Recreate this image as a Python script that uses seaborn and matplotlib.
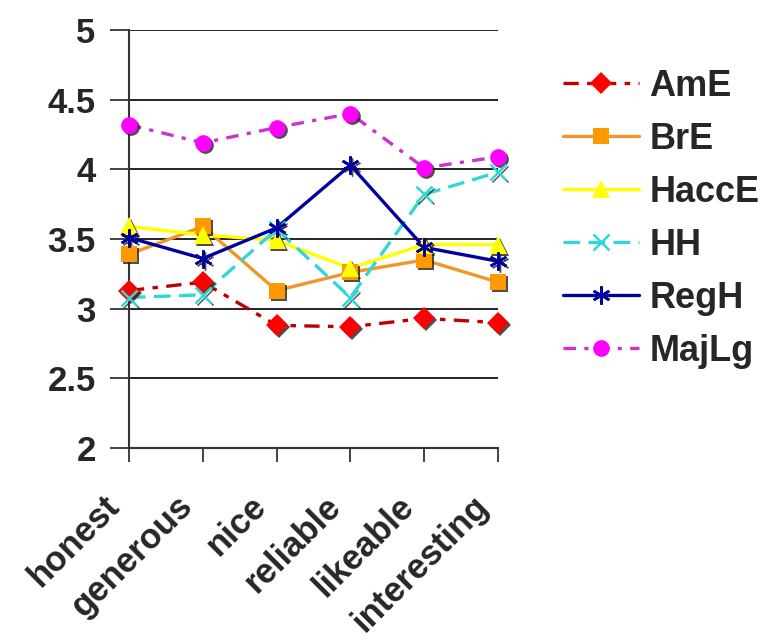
import matplotlib
matplotlib.use("Agg")
import matplotlib.pyplot as plt
import matplotlib.transforms as mtransforms
import seaborn as sns
import pandas as pd

traits = ["honest", "generous", "nice", "reliable", "likeable", "interesting"]
AmE = [3.13, 3.19, 2.88, 2.87, 2.93, 2.90]
BrE = [3.39, 3.59, 3.13, 3.26, 3.35, 3.19]
HaccE = [3.59, 3.53, 3.49, 3.29, 3.46, 3.46]
HH = [3.08, 3.10, 3.57, 3.08, 3.82, 3.98]
RegH = [3.51, 3.36, 3.58, 4.03, 3.44, 3.34]
MajLg = [4.32, 4.19, 4.30, 4.40, 4.01, 4.09]

series = {"AmE": AmE, "BrE": BrE, "HaccE": HaccE, "HH": HH, "RegH": RegH, "MajLg": MajLg}

styles = {
    "AmE":   dict(color="#C00000", mfc="#FF0000", marker="D", ms=11, dashes=(11, 6, 4, 6)),
    "BrE":   dict(color="#F0962A", mfc="#FF9900", marker="s", ms=11, dashes=None),
    "HaccE": dict(color="#FFFF00", mfc="#FFFF00", marker="^", ms=13, dashes=None),
    "HH":    dict(color="#33D6D6", mfc="#33D6D6", marker="x", ms=11, dashes=(12, 6)),
    "RegH":  dict(color="#0000A0", mfc="#0000A0", marker=(6, 2, 0), ms=13, dashes=None),
    "MajLg": dict(color="#CC33CC", mfc="#FF00FF", marker="o", ms=12, dashes=(9, 6, 3, 6)),
}
line_markers = ("HH", "RegH")

sns.set_theme(style="white")
plt.rcParams["font.family"] = ["Liberation Sans", "DejaVu Sans"]
plt.rcParams["font.weight"] = "bold"
plt.rcParams["lines.scale_dashes"] = False

fig = plt.figure(figsize=(7.61, 6.41), dpi=100)
ax = fig.add_axes([129 / 761, 1 - 448 / 641, (498 - 129) / 761, (448 - 30) / 641])

xpos = list(range(len(traits)))
shadow = mtransforms.offset_copy(ax.transData, fig=fig, x=2, y=-2, units="dots")
for name, vals in series.items():
    st = styles[name]
    df = pd.DataFrame({"x": xpos, "y": vals})
    # connecting line
    sns.lineplot(data=df, x="x", y="y", ax=ax, color=st["color"], linewidth=2.4,
                 sort=False, legend=False, zorder=2)
    line = ax.lines[-1]
    if st["dashes"] is not None:
        line.set_dashes(st["dashes"])
    # drop shadow under the markers, then the markers themselves
    lm = name in line_markers
    ax.plot(xpos, vals, linestyle="none", marker=st["marker"], ms=st["ms"],
            color="#222222", mec="#222222", mew=1.0 if lm else 0,
            transform=shadow, zorder=3, alpha=0.8, clip_on=False)
    ax.plot(xpos, vals, linestyle="none", marker=st["marker"], ms=st["ms"],
            mfc=st["mfc"], mec=st["mfc"], mew=1.8 if lm else 0,
            zorder=4, clip_on=False)

# legend proxies
handles = []
for name in series:
    st = styles[name]
    lm = name in line_markers
    h, = ax.plot([], [], color=st["color"], linewidth=2.4, marker=st["marker"],
                 ms=st["ms"], mfc=st["mfc"], mec=st["mfc"], mew=1.8 if lm else 0)
    if st["dashes"] is not None:
        h.set_dashes(st["dashes"])
    handles.append(h)

ax.legend(handles, list(series.keys()), loc="upper left",
          bbox_to_anchor=(1.138, 0.942), frameon=False, handlelength=2.1,
          handletextpad=0.28, labelspacing=0.50, borderaxespad=0,
          prop={"size": 26, "weight": "bold"})

ax.set_xlim(0, 5)
ax.set_ylim(2, 5)
ax.set_yticks([2, 2.5, 3, 3.5, 4, 4.5, 5])
ax.set_yticklabels(["2", "2.5", "3", "3.5", "4", "4.5", "5"])
ax.set_xticks(xpos)
ax.set_xticklabels(traits, rotation=45, ha="right", va="center", rotation_mode="anchor")
ax.tick_params(axis="x", labelsize=25, pad=16, length=10, width=1.2, color="#222222",
               direction="out", bottom=True)
ax.tick_params(axis="y", labelsize=25, pad=10, length=14, width=1.2, color="#222222",
               direction="out", left=True)
for lab in ax.get_xticklabels() + ax.get_yticklabels():
    lab.set_fontweight("bold")

# nudge the slanted category labels down and to the left of their ticks
nudge = mtransforms.ScaledTranslation(-0.15, -0.17, fig.dpi_scale_trans)
for lab in ax.get_xticklabels():
    lab.set_transform(lab.get_transform() + nudge)

ax.grid(axis="y", color="black", linewidth=1.2)
ax.grid(axis="x", visible=False)
ax.set_axisbelow(True)
for s in ("top", "right"):
    ax.spines[s].set_visible(False)
for s in ("left", "bottom"):
    ax.spines[s].set_color("#333333")
    ax.spines[s].set_linewidth(1.5)
ax.set_xlabel("")
ax.set_ylabel("")

fig.savefig("out.png", dpi=100)
